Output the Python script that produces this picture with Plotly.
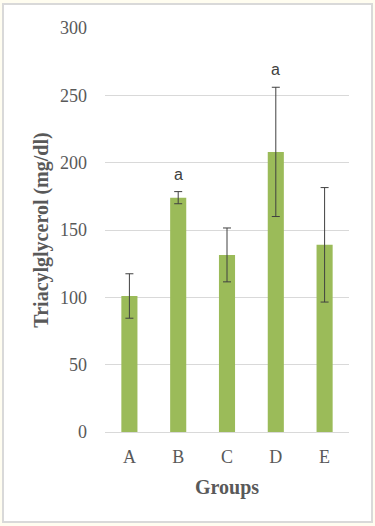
import plotly.graph_objects as go

groups = ["A", "B", "C", "D", "E"]
means = [101, 174, 131.5, 208, 139]
errors = [16.5, 4.5, 20, 48, 42.5]
letters = ["", "a", "", "a", ""]
yticks = [0, 50, 100, 150, 200, 250, 300]

W, H = 375, 526
ml, mr, mt, mb = 105, 26, 28, 94
pw, ph = W - ml - mr, H - mt - mb

fig = go.Figure()
fig.add_trace(go.Bar(
    x=groups, y=means, width=0.33,
    marker=dict(color="#9BBB59", line=dict(width=0)),
    error_y=dict(type="data", array=errors, visible=True,
                 color="#404040", thickness=1, width=4),
    hoverinfo="skip",
))

for g, m, e, t in zip(groups, means, errors, letters):
    if t:
        fig.add_annotation(x=g, y=m + e, text=t, showarrow=False,
                           yanchor="bottom", yshift=7,
                           font=dict(family="Liberation Sans", size=16, color="#404040"))

def px2paper_x(px):
    return (px - ml) / pw

def px2paper_y(py):
    return (H - mb - py) / ph

fig.add_shape(type="rect", xref="paper", yref="paper",
              x0=px2paper_x(3), x1=px2paper_x(372),
              y0=px2paper_y(522), y1=px2paper_y(4),
              fillcolor="white", line=dict(color="#D9D9D9", width=2),
              layer="below")

fig.update_layout(
    width=W, height=H,
    margin=dict(l=ml, r=mr, t=mt, b=mb),
    paper_bgcolor="#FFFDF0", plot_bgcolor="rgba(0,0,0,0)",
    showlegend=False,
    xaxis=dict(
        showgrid=False, showline=True, linecolor="#D9D9D9", linewidth=1,
        ticks="", ticklabelstandoff=8,
        tickfont=dict(family="Liberation Serif", size=18, color="#595959"),
        title=dict(text="<b>Groups</b>", standoff=14,
                   font=dict(family="Liberation Serif", size=20, color="#595959")),
        fixedrange=True,
    ),
    yaxis=dict(
        range=[0, 300], tickvals=yticks, showgrid=True, gridcolor="#D9D9D9",
        gridwidth=1, zeroline=False, showline=False, ticks="",
        ticklabelstandoff=17,
        tickfont=dict(family="Liberation Serif", size=18, color="#595959"),
        title=dict(text="<b>Triacylglycerol (mg/dl)</b>", standoff=6,
                   font=dict(family="Liberation Serif", size=20, color="#595959")),
        fixedrange=True,
    ),
)

fig.write_html("out.html", config={"displayModeBar": False},
               post_script="document.body.style.margin='0';document.body.style.padding='0';document.body.style.overflow='hidden';")
